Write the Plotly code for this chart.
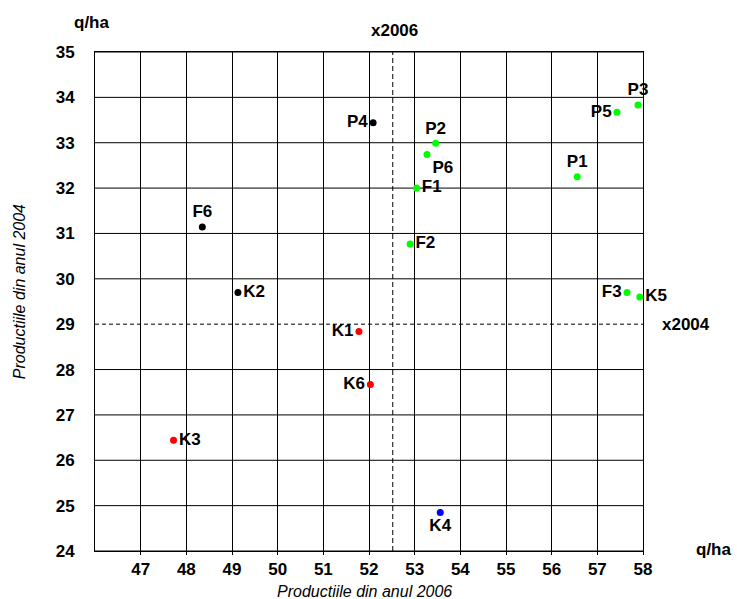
import plotly.graph_objects as go

# ---------------- data ----------------
labels = ["F4", "F6", "K2", "P4",
          "F5", "P3", "P5", "P2", "P6", "P1", "F1", "F2", "F3", "K5",
          "K1", "K6", "K3",
          "K4"]
prod_2006 = [49.75, 48.35, 49.13, 52.09,
             53.79, 57.89, 57.43, 53.46, 53.27, 56.56, 53.04, 52.90, 57.65, 57.93,
             51.78, 52.03, 47.72,
             53.56]
prod_2004 = [35.04, 31.14, 29.70, 33.44,
             35.09, 33.83, 33.67, 32.99, 32.74, 32.25, 32.00, 30.77, 29.70, 29.60,
             28.84, 27.67, 26.44,
             24.85]
groups = ["black", "black", "black", "black",
          "green", "green", "green", "green", "green", "green", "green", "green", "green", "green",
          "red", "red", "red",
          "blue"]
x_ticks = [47, 48, 49, 50, 51, 52, 53, 54, 55, 56, 57, 58]
y_ticks = [24, 25, 26, 27, 28, 29, 30, 31, 32, 33, 34, 35]
x_range = [46, 58]
y_range = [24, 35]
x_mean_2006 = 52.52
y_mean_2004 = 29.0

# ---------------- style ----------------
FONT = "Arial, 'Liberation Sans', sans-serif"
group_colors = {"black": "#000000", "green": "#00FF00", "red": "#FF0000", "blue": "#0000FF"}
label_pos = {
    "F4": "bottom center", "F6": "top center", "K2": "middle right", "P4": "middle left",
    "F5": "bottom left", "P3": "top center", "P5": "middle left", "P2": "top center",
    "P6": "bottom right", "P1": "top center", "F1": "middle right", "F2": "middle right",
    "F3": "middle left", "K5": "middle right", "K1": "middle left", "K6": "middle left",
    "K3": "middle right", "K4": "bottom center",
}

fig = go.Figure()
fig.add_trace(go.Scatter(
    x=prod_2006, y=prod_2004, text=labels,
    mode="markers+text",
    marker=dict(size=7, color=[group_colors[g] for g in groups],
                line=dict(width=0)),
    textposition=[label_pos[l] for l in labels],
    textfont=dict(family=FONT, size=17, color="#000000", weight="bold"),
    cliponaxis=False,
    showlegend=False,
    hoverinfo="skip",
))

shapes = []
# horizontal grid lines (the mean line replaces its grid line)
for yv in y_ticks:
    if yv == y_mean_2004:
        continue
    shapes.append(dict(type="line", xref="paper", yref="y", x0=0, x1=1, y0=yv, y1=yv,
                       line=dict(color="#000000", width=1), layer="below"))
shapes.append(dict(type="line", xref="paper", yref="y", x0=0, x1=1,
                   y0=y_mean_2004, y1=y_mean_2004,
                   line=dict(color="#000000", width=1, dash="4px,3px"), layer="below"))
shapes.append(dict(type="line", xref="x", yref="paper", x0=x_mean_2006, x1=x_mean_2006,
                   y0=0, y1=1,
                   line=dict(color="#000000", width=1, dash="5px,3px"), layer="below"))

ann_font = dict(family=FONT, size=17, color="#000000", weight="bold")
title_font = dict(family=FONT, size=16, color="#000000", style="italic")
annotations = [
    dict(text="q/ha", xref="paper", yref="paper", x=-0.006, y=1.0595,
         showarrow=False, font=ann_font, xanchor="center", yanchor="middle"),
    dict(text="x2006", xref="x", yref="paper", x=x_mean_2006, y=1.0435, xshift=2,
         showarrow=False, font=ann_font, xanchor="center", yanchor="middle"),
    dict(text="x2004", xref="paper", yref="y", x=1.078, y=y_mean_2004,
         showarrow=False, font=ann_font, xanchor="center", yanchor="middle"),
    dict(text="q/ha", xref="paper", yref="paper", x=1.129, y=0.004,
         showarrow=False, font=ann_font, xanchor="center", yanchor="middle"),
    dict(text="Productiile din anul 2004", xref="paper", yref="paper", x=-0.1374, y=0.52,
         textangle=-90, showarrow=False, font=title_font, xanchor="center", yanchor="middle"),
    dict(text="Productiile din anul 2006", xref="paper", yref="paper", x=0.4925, y=-0.0818,
         showarrow=False, font=title_font, xanchor="center", yanchor="middle"),
]

fig.update_layout(
    width=737, height=599, autosize=False,
    margin=dict(l=95, r=94, t=52, b=48, pad=0),
    plot_bgcolor="#FFFFFF", paper_bgcolor="#FFFFFF",
    shapes=shapes, annotations=annotations,
    font=dict(family=FONT),
    hovermode=False,
)
fig.update_xaxes(
    range=x_range, tickvals=x_ticks, ticktext=[str(v) for v in x_ticks],
    showgrid=True, gridcolor="#000000", gridwidth=1,
    showline=True, linecolor="#000000", linewidth=1, mirror=True,
    ticks="outside", ticklen=3, tickcolor="#000000",
    tickfont=dict(family=FONT, size=17, color="#000000", weight="bold"),
    zeroline=False,
)
fig.update_yaxes(
    range=y_range, tickvals=y_ticks, ticktext=[str(v) for v in y_ticks],
    showgrid=False,
    showline=True, linecolor="#000000", linewidth=1, mirror=True,
    ticks="", ticklabelstandoff=16,
    tickfont=dict(family=FONT, size=17, color="#000000", weight="bold"),
    zeroline=False,
)

fig.write_html(
    "out.html",
    config={"displayModeBar": False, "staticPlot": True},
    post_script="document.body.style.margin='0';document.body.style.overflow='hidden';",
)
